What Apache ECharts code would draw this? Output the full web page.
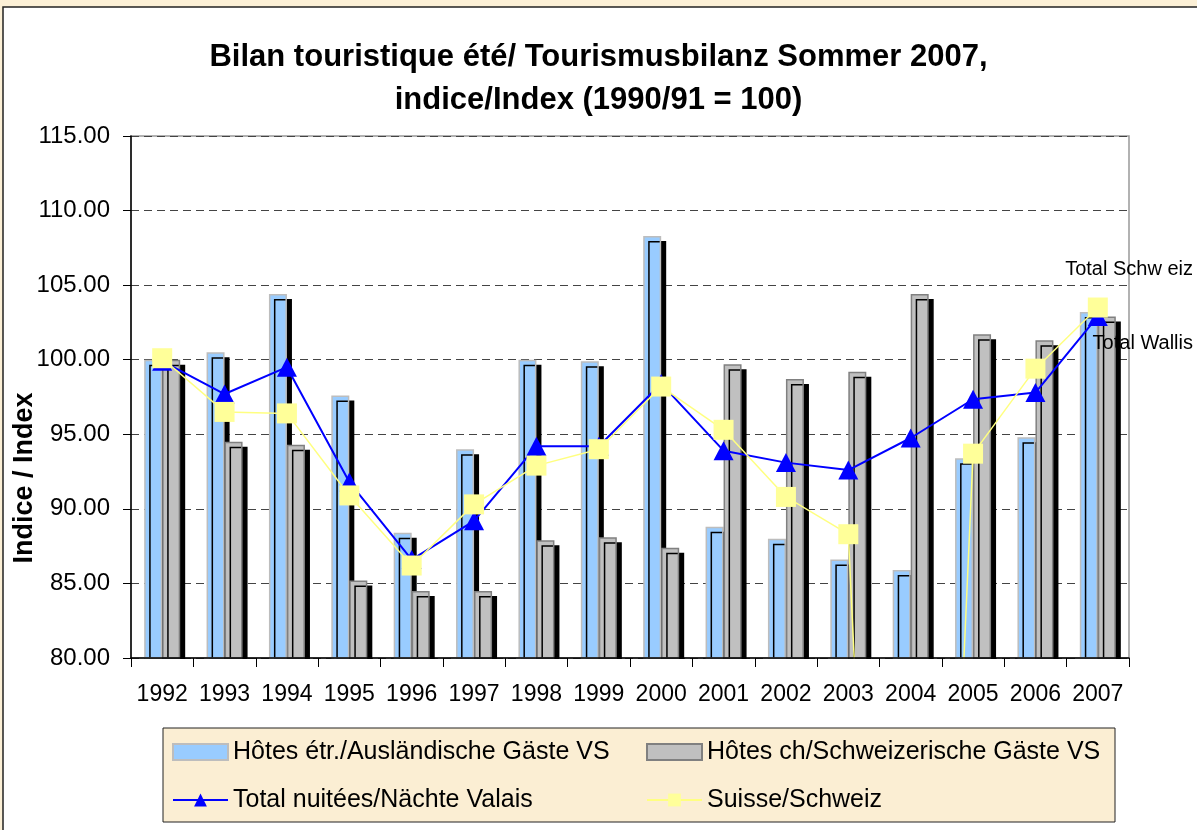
<!DOCTYPE html>
<html>
<head>
<meta charset="utf-8">
<script src="https://cdn.jsdelivr.net/npm/echarts@6/dist/echarts.min.js"></script>
<style>
  html, body { margin: 0; padding: 0; background: #fcf0d6; }
  #chart { width: 1197px; height: 830px; }
</style>
</head>
<body>
<div id="chart"></div>
<script>
// years on the x axis
var years = ['1992', '1993', '1994', '1995', '1996', '1997', '1998', '1999',
  '2000', '2001', '2002', '2003', '2004', '2005', '2006', '2007']
// Hôtes étr. (blue bars)
var hotesEtr = [100.0, 100.5, 104.4, 97.6, 88.4, 94.0, 100.0, 99.9,
  108.3, 88.8, 88.0, 86.6, 85.9, 93.4, 94.8, 103.2]
// Hôtes ch (grey bars)
var hotesCh = [100.0, 94.5, 94.3, 85.2, 84.5, 84.5, 87.9, 88.1,
  87.4, 99.7, 98.7, 99.2, 104.4, 101.7, 101.3, 102.9]
// Total nuitées Valais (blue line)
var totalValais = [99.9, 97.7, 99.5, 91.8, 86.6, 89.2, 94.2, 94.2,
  98.4, 93.9, 93.1, 92.6, 94.75, 97.35, 97.8, 102.9]
// Suisse (yellow line) - 2004 is 0 in the source, line drops off the chart
var suisse = [100.1, 96.5, 96.4, 90.9, 86.2, 90.3, 92.9, 94.0,
  98.2, 95.3, 90.8, 88.3, 0, 93.7, 99.4, 103.5]
var yTicks = [80, 85, 90, 95, 100, 105, 110, 115]

var font = "'Liberation Sans', Arial, sans-serif"
var myChart = echarts.init(document.getElementById('chart'))

var barShadow = {
  shadowColor: '#000',
  shadowBlur: 0,
  shadowOffsetX: 5,
  shadowOffsetY: 5
}

var option = {
  animation: false,
  backgroundColor: '#fcf0d6',
  textStyle: { fontFamily: font },
  title: {
    text: 'Bilan touristique été/ Tourismusbilanz Sommer 2007,\nindice/Index (1990/91 = 100)',
    left: 'center',
    top: 36,
    padding: 0,
    textStyle: {
      fontFamily: font,
      fontSize: 31,
      fontWeight: 'bold',
      color: '#000',
      lineHeight: 43
    }
  },
  legend: {
    left: 163,
    top: 728,
    width: 940,
    orient: 'horizontal',
    padding: [5, 5, 3, 9],
    itemGap: 10,
    itemWidth: 55,
    itemHeight: 16,
    selectedMode: false,
    backgroundColor: '#fbeed3',
    borderColor: '#222',
    borderWidth: 1,
    itemStyle: { shadowColor: 'rgba(0,0,0,0)', shadowOffsetX: 0, shadowOffsetY: 0 },
    textStyle: {
      fontFamily: font,
      fontSize: 25,
      color: '#000',
      width: 403,
      lineHeight: 38,
      padding: [0, 0, 0, 0]
    },
    data: [
      { name: 'Hôtes étr./Ausländische Gäste VS', icon: 'rect' },
      { name: 'Hôtes ch/Schweizerische Gäste VS', icon: 'rect' },
      { name: 'Total nuitées/Nächte Valais' },
      { name: 'Suisse/Schweiz' }
    ]
  },
  grid: {
    left: 131,
    right: 68,
    top: 136,
    bottom: 172,
    show: true,
    backgroundColor: '#fff',
    borderColor: '#999',
    borderWidth: 1.5
  },
  xAxis: {
    type: 'category',
    data: years,
    z: 5,
    axisLine: { lineStyle: { color: '#000', width: 1.5 } },
    axisTick: { show: true, length: 9, lineStyle: { color: '#000' } },
    axisLabel: { interval: 0, fontSize: 23, color: '#000', margin: 25, fontFamily: font }
  },
  yAxis: {
    type: 'value',
    min: yTicks[0],
    max: yTicks[yTicks.length - 1],
    interval: 5,
    axisLine: { show: true, lineStyle: { color: '#000', width: 1.5 } },
    axisTick: { show: true, length: 8, lineStyle: { color: '#000' } },
    axisLabel: {
      fontSize: 24,
      color: '#000',
      margin: 21,
      fontFamily: font,
      formatter: function (v) { return v.toFixed(2) }
    },
    splitLine: { show: true, lineStyle: { color: '#444', type: [8, 5], width: 1 } }
  },
  graphic: [
    { // white chart box
      type: 'rect',
      z: -100,
      shape: { x: 3, y: 7, width: 1210, height: 840 },
      style: { fill: '#fff', stroke: '#222', lineWidth: 1.5 }
    },
    { // hides bar shadows below the x axis
      type: 'rect',
      z: 3,
      shape: { x: 124, y: 659, width: 1012, height: 8 },
      style: { fill: '#fff' }
    },
    {
      type: 'text',
      z: 100,
      x: 25,
      y: 478,
      rotation: Math.PI / 2,
      style: {
        text: 'Indice / Index',
        fontFamily: font,
        fontSize: 27,
        fontWeight: 'bold',
        fill: '#000',
        align: 'center',
        verticalAlign: 'middle'
      }
    },
    {
      type: 'text',
      z: 100,
      x: 1193,
      y: 269,
      style: {
        text: 'Total Schw eiz',
        fontFamily: font,
        fontSize: 20,
        fill: '#000',
        align: 'right',
        verticalAlign: 'middle'
      }
    },
    {
      type: 'text',
      z: 100,
      x: 1193,
      y: 343,
      style: {
        text: 'Total Wallis',
        fontFamily: font,
        fontSize: 20,
        fill: '#000',
        align: 'right',
        verticalAlign: 'middle'
      }
    }
  ],
  series: [
    {
      name: 'Hôtes étr./Ausländische Gäste VS',
      type: 'bar',
      data: hotesEtr,
      barWidth: 18,
      barGap: '0%',
      itemStyle: Object.assign({ color: '#99ccff', borderColor: '#bdbdbd', borderWidth: 1.5 }, barShadow)
    },
    {
      name: 'Hôtes ch/Schweizerische Gäste VS',
      type: 'bar',
      data: hotesCh,
      barWidth: 18,
      barGap: '0%',
      itemStyle: Object.assign({ color: '#c0c0c0', borderColor: '#808080', borderWidth: 1.5 }, barShadow)
    },
    {
      name: 'Total nuitées/Nächte Valais',
      type: 'line',
      data: totalValais,
      symbol: 'triangle',
      symbolSize: [20, 19],
      lineStyle: { color: '#0000ff', width: 2 },
      itemStyle: { color: '#0000ff' }
    },
    {
      name: 'Suisse/Schweiz',
      type: 'line',
      data: suisse,
      symbol: 'rect',
      symbolSize: 20,
      clip: true,
      lineStyle: { color: '#ffff80', width: 1.5 },
      itemStyle: { color: '#ffff99' }
    }
  ]
}

myChart.setOption(option)
</script>
</body>
</html>
